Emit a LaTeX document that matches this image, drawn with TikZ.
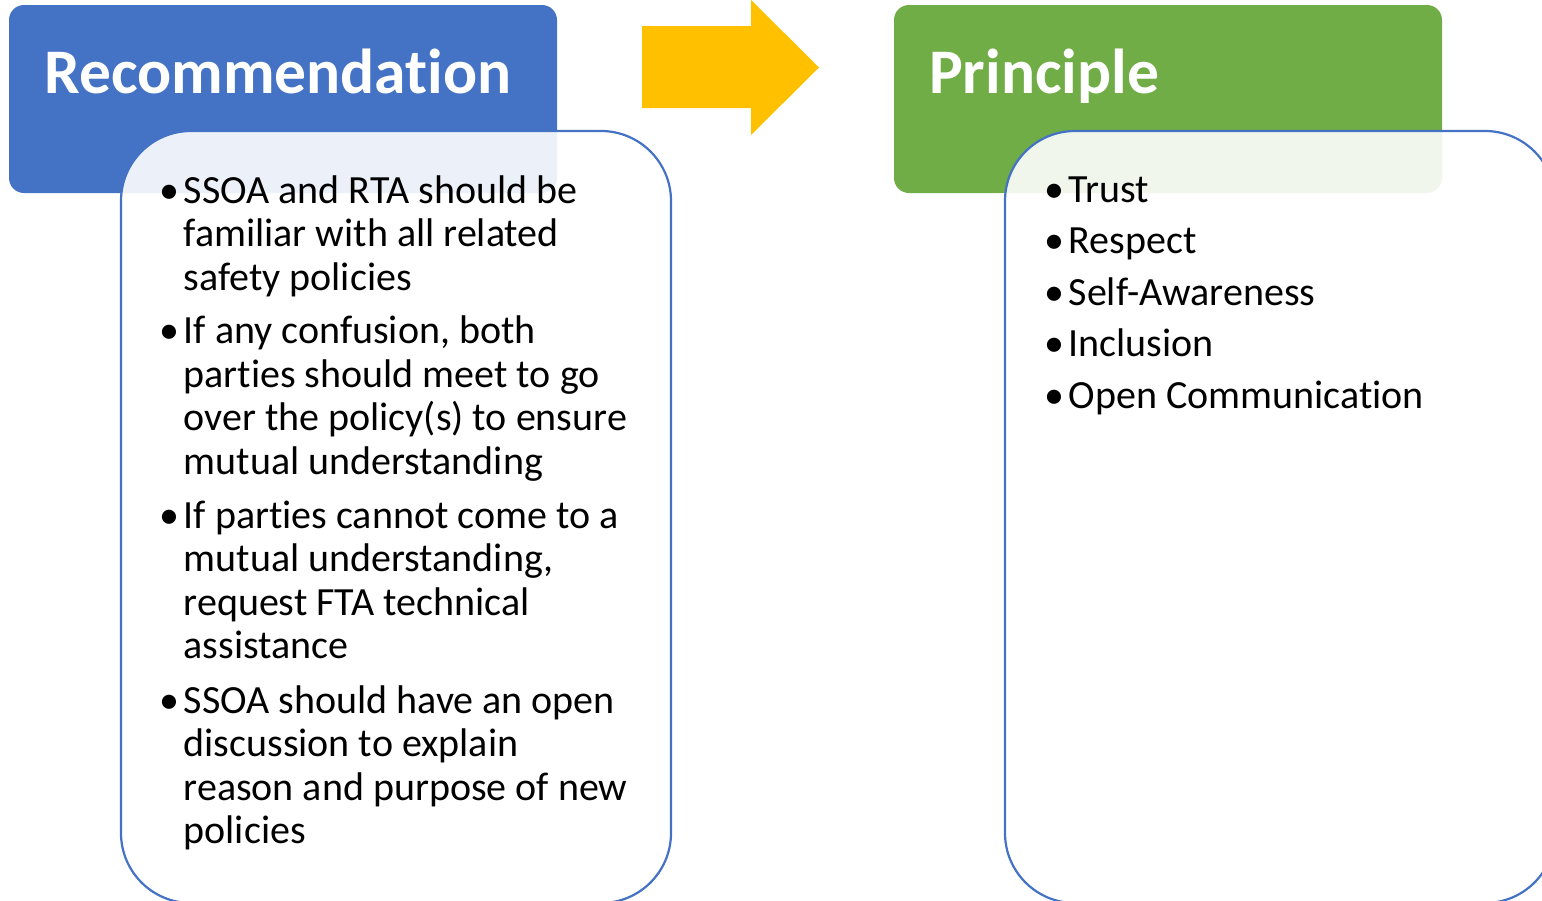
\documentclass[tikz,border=0pt]{standalone}
\usepackage{fontspec}
\setmainfont{Carlito}[RawFeature={-liga}]
\definecolor{hdrblue}{HTML}{4472C4}
\definecolor{hdrgreen}{HTML}{70AD47}
\definecolor{arrgold}{HTML}{FFC000}
\tikzset{
  header/.style={rectangle, rounded corners=15pt, inner sep=0pt, minimum width=548pt, minimum height=188pt},
  listbox/.style={rectangle, rounded corners=70pt, inner sep=0pt, minimum width=550pt, minimum height=772pt,
    fill=white, fill opacity=0.9, draw=hdrblue, draw opacity=1, line width=2.2pt},
  titletext/.style={anchor=base west, inner sep=0pt, text=white, font=\fontsize{63.5}{70}\selectfont\bfseries},
  itemtext/.style={anchor=base west, inner sep=0pt, align=left, text=black, font=\fontsize{40}{43.6}\selectfont},
  pitemtext/.style={anchor=base west, inner sep=0pt, text=black, font=\fontsize{40}{43.6}\selectfont},
  bul/.style={anchor=base, inner sep=0pt, text=black, font=\fontsize{40}{43.6}\selectfont}
}
\begin{document}
\begin{tikzpicture}[x=1pt, y=-1pt]
\useasboundingbox (0,0) rectangle (1542,900);
\clip (0,0) rectangle (1542,900);
% headers
\node[header, fill=hdrblue] (rechdr) at (283,99) {};
\node[header, fill=hdrgreen] (prihdr) at (1168,99) {};
\node[titletext] (rectitle) at (44,93) {Recommendation};
\node[titletext] (prititle) at (929,93) {Principle};
% list boxes
\node[listbox] (recbox) at (396,517) {};
\node[listbox] (pribox) at (1280,517) {};
% arrow
\fill[arrgold] (642,26) -- (751,26) -- (751,0) -- (819,67.5) -- (751,135) -- (751,108) -- (642,108) -- cycle;
% left items (anchor on baseline of last line)
\node[bul] (b1) at (169,203) {•};
\node[itemtext] (r1) at (183.5,290.2) {SSOA and RTA should be\\familiar with all related\\safety policies};
\node[bul] (b2) at (169,343.5) {•};
\node[itemtext] (r2) at (183.5,474.3) {If any confusion, both\\parties should meet to go\\over the policy(s) to ensure\\mutual understanding};
\node[bul] (b3) at (169,528) {•};
\node[itemtext] (r3) at (183.5,658.8) {If parties cannot come to a\\mutual understanding,\\request FTA technical\\assistance};
\node[bul] (b4) at (169,713) {•};
\node[itemtext] (r4) at (183.5,843.8) {SSOA should have an open\\discussion to explain\\reason and purpose of new\\policies};
% right items
\node[bul] (c1) at (1054,202) {•};
\node[pitemtext] (p1) at (1068.5,202) {Trust};
\node[bul] (c2) at (1054,253.5) {•};
\node[pitemtext] (p2) at (1068.5,253.5) {Respect};
\node[bul] (c3) at (1054,305) {•};
\node[pitemtext] (p3) at (1068.5,305) {Self-Awareness};
\node[bul] (c4) at (1054,356.5) {•};
\node[pitemtext] (p4) at (1068.5,356.5) {Inclusion};
\node[bul] (c5) at (1054,408) {•};
\node[pitemtext] (p5) at (1068.5,408) {Open Communication};
\end{tikzpicture}
\end{document}
